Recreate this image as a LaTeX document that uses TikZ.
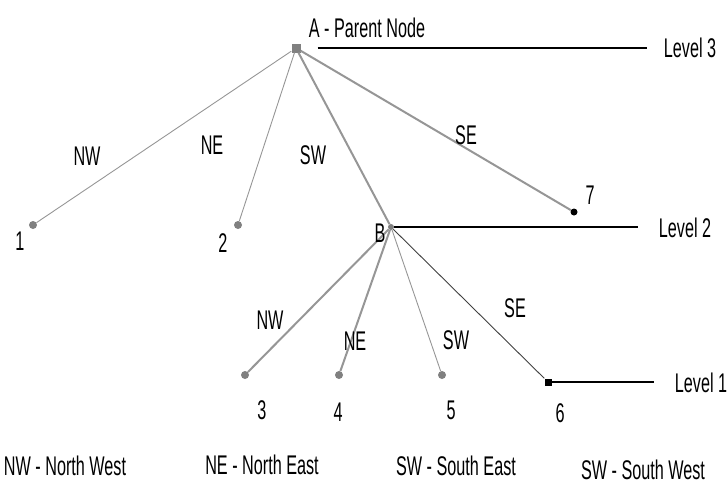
\documentclass[tikz,border=0pt]{standalone}
\usepackage{fontspec}
\setmainfont{Liberation Sans}[FakeStretch=0.6]
\usetikzlibrary{positioning}
\definecolor{edgecol}{RGB}{150,150,150}
\definecolor{dotcol} {RGB}{128,128,128}
\begin{document}
\begin{tikzpicture}[x=1pt,y=-1pt,
  dot/.style={circle,fill=dotcol,inner sep=0pt,minimum size=8pt},
  root/.style={rectangle,fill=dotcol,inner sep=0pt,minimum size=9pt},
  lite/.style={edgecol,line width=0.9pt},
  heavy/.style={edgecol,line width=2pt},
  lvl/.style={black,line width=1.4pt},
  txt/.style={font=\fontsize{27}{29}\selectfont,inner sep=1pt}
]
\useasboundingbox (0,0) rectangle (727,485);
% tree nodes
\node[root] (A) at (296,48) {};
\node[dot,minimum size=6pt] (B) at (391,227) {};
\node[dot] (n1) at (33,225) {};
\node[dot] (n2) at (238,225) {};
\node[dot,fill=black,minimum size=7pt] (n7) at (574,212) {};
\node[dot] (n3) at (245,375) {};
\node[dot] (n4) at (339,375) {};
\node[dot] (n5) at (442,375) {};
\node[root,fill=black,minimum size=7pt] (n6) at (548,382) {};
% edges
\draw[lite]  (A)--(n1); \draw[lite]  (A)--(n2);
\draw[heavy] (A)--(B);  \draw[heavy] (A)--(n7);
\draw[heavy] (B)--(n3); \draw[heavy] (B)--(n4);
\draw[lite]  (B)--(n5); \draw[black!75,line width=0.9pt] (B)--(n6);
% levels
\node[txt] (lv3) at (690,48)  {Level 3};
\node[txt] (lv2) at (685,228) {Level 2};
\node[txt] (lv1) at (701,383) {Level 1};
\draw[lvl] ([xshift=17pt]A.east) -- ([xshift=-16pt]A.east -| lv3.west);
\draw[lvl] (B) -- ([xshift=-20pt]B -| lv2.west);
\draw[lvl] (n6) -- ([xshift=-20pt]n6 -| lv1.west);
% labels
\node[txt] at (367,28)  {A - Parent Node};
\node[txt] at (380,233) {B};
\node[txt] at (20,241)  {1};
\node[txt] at (223,243) {2};
\node[txt] at (262,410) {3};
\node[txt] at (338,412) {4};
\node[txt] at (451,410) {5};
\node[txt] at (560,413) {6};
\node[txt] at (590,195) {7};
\node[txt] at (87,156)  {NW};
\node[txt] at (212,145) {NE};
\node[txt] at (313,155) {SW};
\node[txt] at (466,135) {SE};
\node[txt] at (270,320) {NW};
\node[txt] at (355,341) {NE};
\node[txt] at (456,340) {SW};
\node[txt] at (515,308) {SE};
% legend
\node[txt] at (65,466)  {NW - North West};
\node[txt] at (262,465) {NE - North East};
\node[txt] at (456,466) {SW - South East};
\node[txt] at (643,470) {SW - South West};
\end{tikzpicture}
\end{document}
